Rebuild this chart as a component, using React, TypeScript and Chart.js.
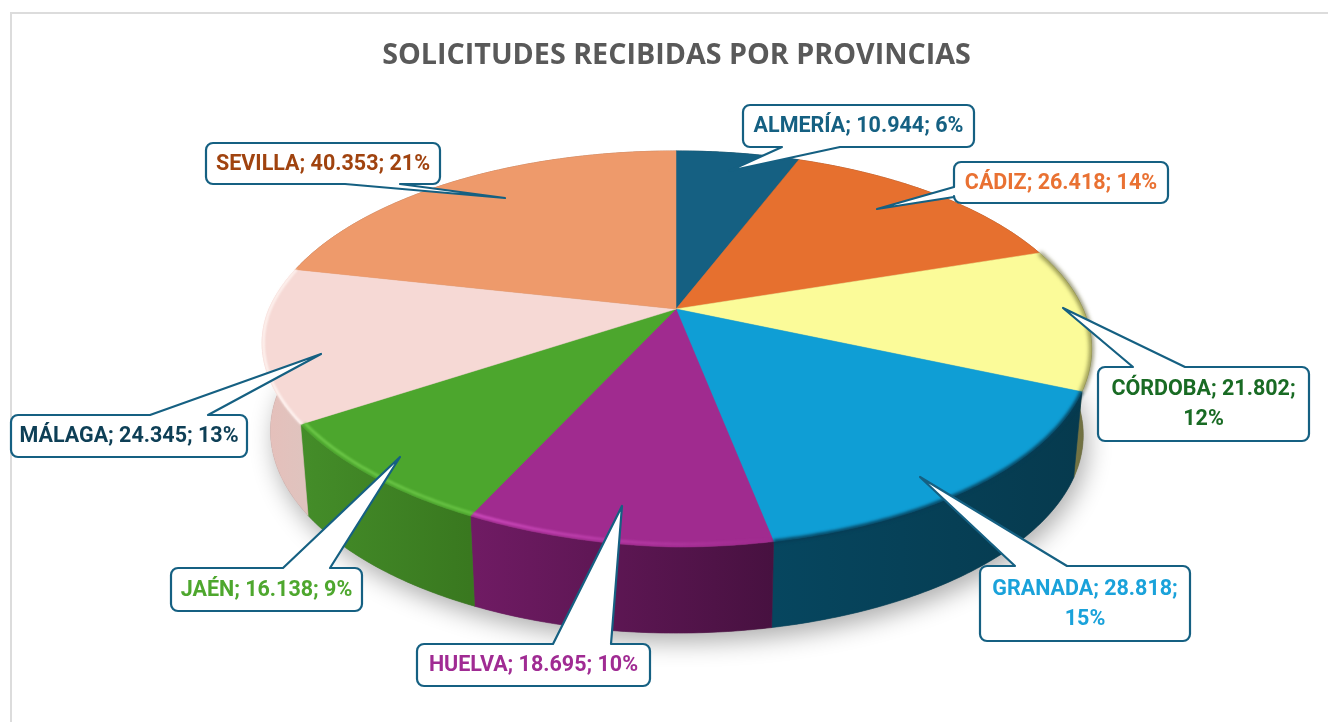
import React, { useEffect, useRef } from "react";
import { Chart, registerables } from "chart.js";

Chart.register(...registerables);

const provinces = ["ALMERÍA", "CÁDIZ", "CÓRDOBA", "GRANADA", "HUELVA", "JAÉN", "MÁLAGA", "SEVILLA"];
const requests = [10944, 26418, 21802, 28818, 18695, 16138, 24345, 40353];
const percents = [6, 14, 12, 15, 10, 9, 13, 21];
const titleText = "SOLICITUDES RECIBIDAS POR PROVINCIAS";

const sliceColors = ["#156082", "#E6702F", "#FBFB99", "#0F9ED5", "#A02B8F", "#4CA62D", "#F6D9D5", "#EE9A6B"];
const labelColors = ["#156082", "#E97132", "#196B24", "#1AA2DA", "#A02B93", "#4EA72E", "#0E3F56", "#A0430F"];
const wallColors: [string, string][] = [
  ["#0c3a4e", "#0c3a4e"], ["#8a4420", "#8a4420"], ["#8d8d58", "#6a6a3c"], ["#06465f", "#063a4e"],
  ["#701b64", "#471140"], ["#448d29", "#39781f"], ["#e6bfba", "#e0c3be"], ["#a86a4a", "#a86a4a"],
];
type Bevel = { from: string; to: string; r: number; width: number; blur: number };
const bevels: (Bevel | null)[] = [
  null,
  null,
  { from: "rgba(90,90,40,0.75)", to: "rgba(90,90,40,0.75)", r: 1, width: 4, blur: 2 },
  { from: "rgba(6,60,85,0.9)", to: "rgba(6,60,85,0.9)", r: 1, width: 4, blur: 1.6 },
  { from: "rgba(214,80,198,0.9)", to: "rgba(214,80,198,0)", r: 0.99, width: 2.6, blur: 1.2 },
  { from: "rgba(116,208,78,0.9)", to: "rgba(116,208,78,0.7)", r: 0.99, width: 2.6, blur: 1.2 },
  { from: "rgba(255,246,243,1)", to: "rgba(255,246,243,1)", r: 0.997, width: 2.4, blur: 1 },
  null,
];

type Callout = { x: number; y: number; w: number; h: number; side: "top" | "bottom" | "left"; a: number; b: number; tx: number; ty: number; wrap?: boolean };
const callouts: Callout[] = [
  { x: 743, y: 105, w: 231, h: 42, side: "bottom", a: 782, b: 840, tx: 729, ty: 171 },
  { x: 954, y: 162, w: 214, h: 41, side: "left", a: 187, b: 197, tx: 877, ty: 209 },
  { x: 1098, y: 367, w: 211, h: 74, side: "top", a: 1133, b: 1185, tx: 1063, ty: 308, wrap: true },
  { x: 980, y: 566, w: 210, h: 75, side: "top", a: 1015, b: 1067, tx: 920, ty: 477, wrap: true },
  { x: 417, y: 644, w: 233, h: 42, side: "top", a: 553, b: 611, tx: 622, ty: 506 },
  { x: 171, y: 568, w: 191, h: 43, side: "top", a: 283, b: 330, tx: 400, ty: 457 },
  { x: 11, y: 415, w: 236, h: 42, side: "top", a: 150, b: 208, tx: 321, ty: 354 },
  { x: 206, y: 143, w: 234, h: 41, side: "bottom", a: 345, b: 400, tx: 505, ty: 198 },
];

const CX = 676, CY = 309, RX = 407, SY = 190, K = 0.202, DEPTH = 86, SHRINK = 0.98;

function project(theta: number, r = 1, lower = false): [number, number] {
  const u = r * Math.cos(theta), v = r * Math.sin(theta), w = 1 - K * v;
  const x = RX * u / w, y = SY * v / w;
  const skew = Math.max(0, -u) * Math.max(0, v);
  return lower
    ? [CX + x * SHRINK + 9 * skew, CY + y + DEPTH]
    : [CX + x + 9 * skew, CY + y - 11 * skew];
}

function arcPoints(a: number, b: number, r = 1, lower = false) {
  const n = Math.max(2, Math.ceil(Math.abs(b - a) / 0.01));
  const pts: [number, number][] = [];
  for (let i = 0; i <= n; i++) pts.push(project(a + (b - a) * i / n, r, lower));
  return pts;
}

function trace(ctx: CanvasRenderingContext2D, pts: [number, number][], move = true) {
  pts.forEach(([x, y], i) => (i === 0 && move ? ctx.moveTo(x, y) : ctx.lineTo(x, y)));
}

function calloutPath(ctx: CanvasRenderingContext2D, c: Callout) {
  const r = 7, { x, y, w, h } = c;
  ctx.beginPath();
  ctx.moveTo(x + r, y);
  if (c.side === "top") { ctx.lineTo(c.a, y); ctx.lineTo(c.tx, c.ty); ctx.lineTo(c.b, y); }
  ctx.lineTo(x + w - r, y);
  ctx.arcTo(x + w, y, x + w, y + r, r);
  ctx.lineTo(x + w, y + h - r);
  ctx.arcTo(x + w, y + h, x + w - r, y + h, r);
  if (c.side === "bottom") { ctx.lineTo(c.b, y + h); ctx.lineTo(c.tx, c.ty); ctx.lineTo(c.a, y + h); }
  ctx.lineTo(x + r, y + h);
  ctx.arcTo(x, y + h, x, y + h - r, r);
  if (c.side === "left") { ctx.lineTo(x, c.b); ctx.lineTo(c.tx, c.ty); ctx.lineTo(x, c.a); }
  ctx.lineTo(x, y + r);
  ctx.arcTo(x, y, x + r, y, r);
  ctx.closePath();
}

const pie3d = {
  id: "pie3d",
  beforeDraw(chart: any) {
    const ctx: CanvasRenderingContext2D = chart.ctx;
    ctx.save();
    ctx.strokeStyle = "#dcdcdc";
    ctx.lineWidth = 2;
    ctx.beginPath();
    ctx.moveTo(11, 722);
    ctx.lineTo(11, 13);
    ctx.lineTo(1328, 13);
    ctx.stroke();
    ctx.restore();
  },
  beforeDatasetsDraw(chart: any) {
    const ctx: CanvasRenderingContext2D = chart.ctx;
    const arcs = chart.getDatasetMeta(0).data;
    ctx.save();
    // ground shadow
    ctx.save();
    ctx.shadowColor = "rgba(0,0,0,0.32)";
    ctx.shadowBlur = 24;
    ctx.shadowOffsetX = 4;
    ctx.shadowOffsetY = 9;
    ctx.fillStyle = "#777";
    ctx.beginPath();
    trace(ctx, arcPoints(0, Math.PI * 2, 1, true));
    ctx.closePath();
    ctx.fill();
    ctx.restore();
    // walls
    arcs.forEach((el: any, i: number) => {
      const top = arcPoints(el.startAngle, el.endAngle);
      const bot = arcPoints(el.endAngle, el.startAngle, 1, true);
      const xs = top.map((p) => p[0]);
      const g = ctx.createLinearGradient(Math.min(...xs), 0, Math.max(...xs), 0);
      g.addColorStop(0, wallColors[i][0]);
      g.addColorStop(1, wallColors[i][1]);
      ctx.fillStyle = g;
      ctx.strokeStyle = g;
      ctx.lineWidth = 0.6;
      ctx.beginPath();
      trace(ctx, top);
      trace(ctx, bot, false);
      ctx.closePath();
      ctx.fill();
      ctx.stroke();
    });
    // top faces
    arcs.forEach((el: any) => {
      ctx.fillStyle = el.options.backgroundColor;
      ctx.strokeStyle = el.options.backgroundColor;
      ctx.lineWidth = 0.5;
      ctx.beginPath();
      ctx.moveTo(CX, CY);
      trace(ctx, arcPoints(el.startAngle, el.endAngle), false);
      ctx.closePath();
      ctx.fill();
      ctx.stroke();
    });
    // rim shading
    arcs.forEach((el: any, i: number) => {
      const b = bevels[i];
      if (!b) return;
      const pts = arcPoints(el.startAngle, el.endAngle, b.r);
      const xs = pts.map((p) => p[0]);
      const g = ctx.createLinearGradient(Math.min(...xs), 0, Math.max(...xs), 0);
      g.addColorStop(0, b.from);
      g.addColorStop(1, b.to);
      ctx.save();
      ctx.filter = `blur(${b.blur}px)`;
      ctx.strokeStyle = g;
      ctx.lineWidth = b.width;
      ctx.beginPath();
      trace(ctx, pts);
      ctx.stroke();
      ctx.restore();
    });
    ctx.restore();
    return false;
  },
  afterDraw(chart: any) {
    const ctx: CanvasRenderingContext2D = chart.ctx;
    ctx.save();
    callouts.forEach((c, i) => {
      calloutPath(ctx, c);
      ctx.fillStyle = "#ffffff";
      ctx.fill();
      ctx.strokeStyle = "#156082";
      ctx.lineWidth = 2.2;
      ctx.lineJoin = "round";
      ctx.stroke();
      const value = String(requests[i]).replace(/\B(?=(\d{3})+$)/g, ".");
      const head = `${provinces[i]}; ${value};`;
      const pct = `${percents[i]}%`;
      ctx.fillStyle = labelColors[i];
      ctx.font = "bold 21.5px Roboto";
      ctx.textAlign = "center";
      ctx.textBaseline = "middle";
      const mx = c.x + c.w / 2, my = c.y + c.h / 2 + 1;
      if (c.wrap) {
        ctx.fillText(head, mx, my - 15);
        ctx.fillText(pct, mx, my + 15);
      } else {
        ctx.fillText(`${head} ${pct}`, mx, my);
      }
    });
    ctx.restore();
  },
};

export default function App() {
  const ref = useRef<HTMLCanvasElement>(null);
  useEffect(() => {
    const chart = new Chart(ref.current!, {
      type: "pie",
      data: {
        labels: provinces,
        datasets: [{ data: requests, backgroundColor: sliceColors, borderWidth: 0 }],
      },
      options: {
        animation: false,
        responsive: false,
        layout: { padding: { left: 25 } },
        plugins: {
          legend: { display: false },
          tooltip: { enabled: false },
          title: {
            display: true,
            text: titleText,
            color: "#595959",
            fullSize: false,
            font: { family: "Open Sans", size: 28.7, weight: "bold" },
            padding: { top: 39, bottom: 10 },
          },
        },
      },
      plugins: [pie3d],
    } as any);
    return () => chart.destroy();
  }, []);
  return (
    <div style={{ position: "fixed", left: 0, top: 0, width: 1328, height: 722, overflow: "hidden", background: "#fff" }}>
      <canvas ref={ref} width={1328} height={722} style={{ display: "block" }} />
    </div>
  );
}
